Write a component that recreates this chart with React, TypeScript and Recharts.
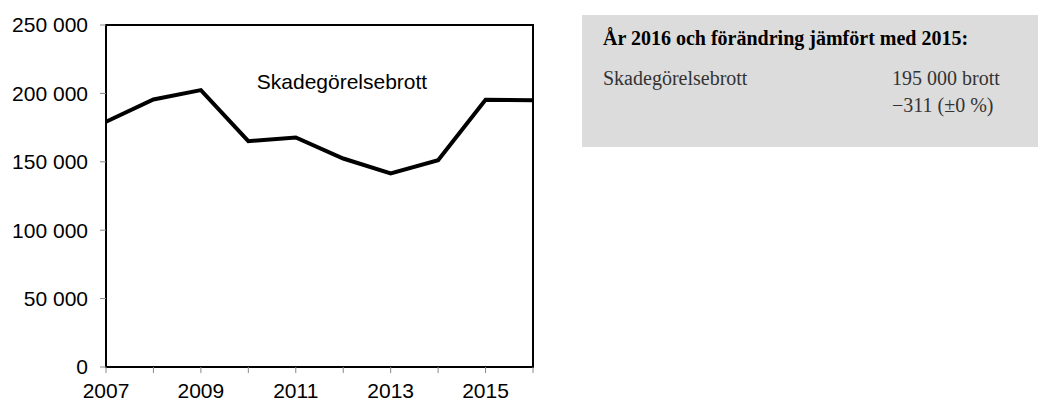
import React from 'react'
import { LineChart, Line, XAxis, YAxis, ReferenceArea } from 'recharts'

const years = [2007, 2008, 2009, 2010, 2011, 2012, 2013, 2014, 2015, 2016]
const skadegorelse = [179300, 195600, 202400, 165100, 167800, 152400, 141500, 151200, 195311, 195000]
const yTicks = [0, 50000, 100000, 150000, 200000, 250000]

const seriesName = 'Skadegörelsebrott'
const boxTitle = 'År 2016 och förändring jämfört med 2015:'
const boxValue = '195 000 brott'
const boxChange = '−311 (±0 %)'

const data = years.map((year, i) => ({ year, value: skadegorelse[i] }))

const fmt = (v: number) => v.toString().replace(/\B(?=(\d{3})+(?!\d))/g, ' ')

const SANS = '"Liberation Sans", Arial, sans-serif'
const SERIF = '"Liberation Serif", "Times New Roman", serif'

export default function App() {
  return (
    <div style={{ position: 'absolute', left: 0, top: 0, width: 1038, height: 401, background: '#fff', overflow: 'hidden' }}>
      <LineChart
        width={560}
        height={401}
        data={data}
        margin={{ top: 25, right: 27, left: 0, bottom: 0 }}
      >
        <XAxis
          dataKey="year"
          type="number"
          domain={[2007, 2016]}
          ticks={years}
          interval={0}
          height={34}
          tickSize={6}
          tickMargin={10}
          tickFormatter={(v: number) => (v % 2 === 1 ? String(v) : '')}
          axisLine={{ stroke: '#000', strokeWidth: 2 }}
          tickLine={{ stroke: '#888' }}
          tick={{ fill: '#000', fontSize: 21, fontFamily: SANS }}
        />
        <YAxis
          domain={[0, 250000]}
          ticks={yTicks}
          width={106}
          tickSize={6}
          tickMargin={12}
          tickFormatter={fmt}
          axisLine={{ stroke: '#000', strokeWidth: 2 }}
          tickLine={{ stroke: '#888' }}
          tick={{ fill: '#000', fontSize: 21, fontFamily: SANS }}
        />
        <ReferenceArea
          x1={2007}
          x2={2016}
          y1={0}
          y2={250000}
          fill="none"
          fillOpacity={0}
          stroke="#000"
          strokeWidth={2}
        />
        <Line
          dataKey="value"
          stroke="#000"
          strokeWidth={4}
          dot={false}
          isAnimationActive={false}
        />
      </LineChart>

      <div
        style={{
          position: 'absolute', left: 192, top: 70, width: 300, textAlign: 'center',
          fontFamily: SANS, fontSize: 21, lineHeight: '24px', color: '#000',
        }}
      >
        {seriesName}
      </div>

      <div style={{ position: 'absolute', left: 582, top: 15, width: 456, height: 132, background: '#dcdcdc', fontFamily: SERIF, fontSize: 20, lineHeight: '20px' }}>
        <div style={{ position: 'absolute', left: 21, top: 13, fontWeight: 'bold', color: '#000', whiteSpace: 'nowrap' }}>{boxTitle}</div>
        <div style={{ position: 'absolute', left: 21, top: 53, color: '#333', whiteSpace: 'nowrap' }}>{seriesName}</div>
        <div style={{ position: 'absolute', left: 310, top: 53, color: '#333', whiteSpace: 'nowrap' }}>{boxValue}</div>
        <div style={{ position: 'absolute', left: 310, top: 80, color: '#333', whiteSpace: 'nowrap' }}>{boxChange}</div>
      </div>
    </div>
  )
}
